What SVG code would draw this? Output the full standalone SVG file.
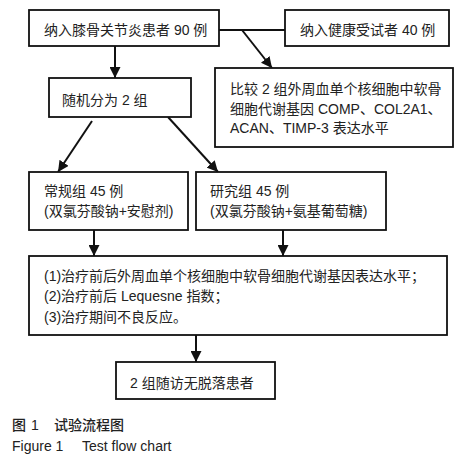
<svg xmlns="http://www.w3.org/2000/svg" width="459" height="460" viewBox="0 0 459 460">
<defs>
<style>
.box{fill:#fff;stroke:#111;stroke-width:1.8}
.t{font-family:"Liberation Sans","Noto Sans CJK SC",sans-serif;font-size:14px;fill:#222}
.c{stroke:#111;stroke-width:2;fill:none}
.cap{font-family:"Noto Sans CJK SC",sans-serif;font-weight:500}
</style>
<marker id="ah" markerUnits="userSpaceOnUse" markerWidth="12" markerHeight="11" refX="11" refY="5.5" orient="auto">
<path d="M0,0 L11,5.5 L0,11 z" fill="#111"/>
</marker>
</defs>
<rect width="459" height="460" fill="#fff"/>
<g id="connectors">
<line class="c" x1="219" y1="30" x2="285" y2="30"/>
<line class="c" x1="242" y1="30" x2="272" y2="68" marker-end="url(#ah)"/>
<line class="c" x1="115" y1="46" x2="115" y2="78" marker-end="url(#ah)"/>
<line class="c" x1="92" y1="121" x2="58" y2="172" marker-end="url(#ah)"/>
<line class="c" x1="168" y1="117" x2="218" y2="172" marker-end="url(#ah)"/>
<line class="c" x1="94" y1="230" x2="94" y2="256" marker-end="url(#ah)"/>
<line class="c" x1="283" y1="230" x2="283" y2="256" marker-end="url(#ah)"/>
<line class="c" x1="196" y1="335" x2="196" y2="362" marker-end="url(#ah)"/>
</g>
<g id="n1"><rect class="box" x="29" y="10" width="190" height="36"/><text class="t" x="44" y="35">纳入膝骨关节炎患者 90 例</text></g>
<g id="n2"><rect class="box" x="285" y="10" width="164" height="36"/><text class="t" x="300" y="35">纳入健康受试者 40 例</text></g>
<g id="n3"><rect class="box" x="215" y="68" width="238" height="79"/>
<text class="t" x="230" y="94">比较 2 组外周血单个核细胞中软骨</text>
<text class="t" x="230" y="114">细胞代谢基因 COMP、COL2A1、</text>
<text class="t" x="230" y="133">ACAN、TIMP-3 表达水平</text></g>
<g id="n4"><rect class="box" x="49" y="78" width="142" height="39"/><text class="t" x="62" y="105">随机分为 2 组</text></g>
<g id="n5"><rect class="box" x="29" y="172" width="159" height="58"/>
<text class="t" x="44" y="196">常规组 45 例</text>
<text class="t" x="44" y="216">(双氯芬酸钠+安慰剂)</text></g>
<g id="n6"><rect class="box" x="196" y="172" width="190" height="58"/>
<text class="t" x="210" y="196">研究组 45 例</text>
<text class="t" x="210" y="216">(双氯芬酸钠+氨基葡萄糖)</text></g>
<g id="n7"><rect class="box" x="29" y="256" width="418" height="79"/>
<text class="t" x="44" y="281">(1)治疗前后外周血单个核细胞中软骨细胞代谢基因表达水平；</text>
<text class="t" x="44" y="301">(2)治疗前后 Lequesne 指数；</text>
<text class="t" x="44" y="322">(3)治疗期间不良反应。</text></g>
<g id="n8"><rect class="box" x="116" y="362" width="159" height="37"/><text class="t" x="130" y="388">2 组随访无脱落患者</text></g>
<g id="caption">
<text class="t cap" x="12" y="430">图</text>
<text class="t" x="31" y="430">1</text>
<text class="t cap" x="54" y="430">试验流程图</text>
<text class="t" x="12" y="451">Figure 1</text>
<text class="t" x="82" y="451">Test flow chart</text>
</g>
</svg>
